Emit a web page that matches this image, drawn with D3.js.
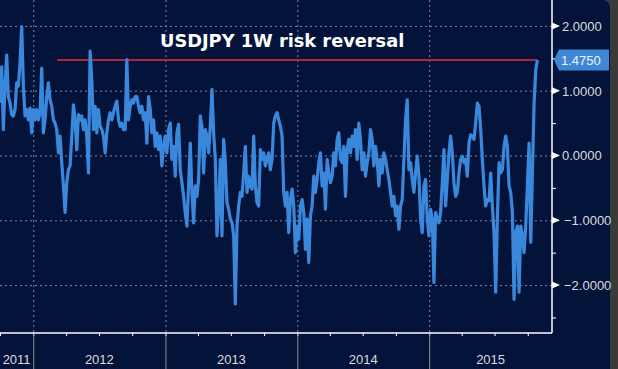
<!DOCTYPE html>
<html>
<head>
<meta charset="utf-8">
<script src="https://cdn.jsdelivr.net/npm/d3@7"></script>
<style>
  html, body { margin: 0; padding: 0; background: #3a3a3a; }
  svg { display: block; }
</style>
</head>
<body>
<svg id="chart" width="618" height="369"></svg>
<script>
// USDJPY 1W risk reversal (approx. every 4-5 days)
const title = "USDJPY 1W risk reversal";
const startDate = new Date(2011, 9, 1);
const stepDays = 4.62;
const rr = [
  0.81, 1.37, 0.40, 1.07, 1.55, 0.91, 0.81, 0.63, 0.61, 0.71,
  1.12, 1.07, 1.43, 1.99, 1.07, 0.61, 0.71, 0.55, 0.73, 0.35,
  0.71, 0.55, 0.71, 0.55, 0.66, 1.35, 0.35, 0.55, 0.91, 1.12,
  0.86, 0.76, 0.55, 0.50, 0.40, 0.04, 0.30, -0.11, -0.47, -0.88,
  -0.42, -0.22, -0.16, 0.30, 0.78, 0.55, 0.09, 0.63, 0.55, 0.61,
  0.40, 0.55, 0.30, -0.27, 1.61, 1.17, 0.40, 0.76, 0.35, 0.71,
  0.45, 0.40, 0.30, 0.04, 0.35, 0.55, 0.66, 0.55, 0.66, 0.76,
  0.84, 0.55, 0.45, 0.50, 0.40, 0.40, 1.48, 0.55, 0.76, 0.86,
  0.81, 0.91, 0.91, 0.76,
  // 2012 h2 - 2013
  0.66, 0.76, 0.55, 0.66, 0.19, 0.91, 0.71, 0.35, 0.55, 0.14,
  0.35, 0.09, 0.30, -0.16, 0.14, 0.30, 0.04, 0.40, 0.50, -0.06,
  0.14, -0.32, 0.35, 0.48, -0.22, -0.42, -0.63, -0.88, -1.09, -0.47,
  0.19, -0.57, -1.04, -0.47, -0.63, -0.37, 0.61, 0.45, -0.27, 0.40,
  0.30, 0.04, 0.45, 1.02, 0.35, -0.06, -1.24, -0.78, -0.06, -1.24,
  0.25, -0.11, -0.73, -0.83, -0.98, -1.04, -1.24, -2.29, -1.09, -0.78,
  -0.57, -0.63, -0.27, 0.14, -0.57, -0.32, -0.47, -0.52, 0.30, -0.47,
  -0.73, -0.78, 0.09, -0.06, 0.04, -0.16, -0.06, 0.04, -0.22, -0.06,
  // 2013 h2 - 2014
  0.50, 0.61, 0.66, 0.55, 0.45, 0.30, -0.57, -0.78, -0.57, -1.19,
  -0.68, -0.52, -0.78, -1.50, -1.09, -1.29, -0.78, -0.68, -0.88, -1.45,
  -0.98, -1.65, -0.93, -0.78, -0.32, -0.57, -0.37, -0.11, 0.04, -0.47,
  -0.27, -0.83, -0.06, -0.27, -0.42, -0.32, 0.04, -0.16, 0.25, 0.35,
  -0.06, -0.11, 0.14, -0.63, 0.09, 0.25, 0.04, 0.30, 0.14, 0.40,
  -0.06, 0.50, 0.25, -0.22, 0.04, -0.32, -0.11, 0.04, 0.40, 0.25,
  -0.16, 0.14, -0.06, -0.47, -0.06, -0.27, 0.04, -0.06, -0.22, -0.37,
  -0.57, -0.78, -0.63, -0.93, -0.78, -1.14, -0.78, -0.68, -0.06, 0.55,
  0.86,
  // 2014 end - 2015
  -0.22, -0.11, -0.37, -0.57, -0.27, -0.01, -0.32, -0.98, -1.19, -0.47,
  -0.37, -0.98, -1.24, -0.83, -0.98, -1.96, -0.88, -0.98, -1.04, -0.88,
  -0.42, 0.09, -0.78, -0.37, 0.04, 0.30, 0.04, -0.42, -0.63, -0.57,
  -0.27, -0.06, -0.01, -0.11, -0.06, -0.32, 0.19, 0.32, 0.30, 0.25,
  0.50, 0.81, 0.76, 0.40, -0.06, -0.47, -0.78, -0.68, -0.70, -0.27,
  -0.78, -1.19, -2.11, -0.98, -0.11, -0.27, -0.22, 0.14, 0.30, 0.14,
  -0.47, -0.57, -0.88, -2.22, -1.19, -1.09, -2.11, -1.09, -1.24, -1.50,
  -1.09, -0.47, 0.19, -1.34, -0.27, 0.81, 1.32, 1.475
];
const refStart = new Date(2012, 2, 7);   // start of the red level line
const yMajor = [2, 1, 0, -1, -2];
const yMinor = [1.5, 0.5, -0.5, -1.5, -2.5];

const W = 618, H = 369;
const plotW = 552, plotH = 333;
const navy = "#03133a";

const data = rr.map((v, i) => ({
  date: new Date(startDate.getTime() + i * stepDays * 86400000),
  value: v
}));
const last = data[data.length - 1];

const svg = d3.select("#chart");

// panel
svg.append("rect").attr("width", W).attr("height", H).attr("fill", "#3a3a3a");
svg.append("rect").attr("x", -10).attr("y", 0).attr("width", 620).attr("height", H + 20)
  .attr("rx", 7).attr("fill", navy);

const x = d3.scaleTime()
  .domain([new Date(2011, 9, 1), new Date(2015, 11, 7)])
  .range([0, plotW]);
const y = d3.scaleLinear()
  .domain([-2.74, 2.40])
  .range([plotH, 0]);

// grid
const grid = svg.append("g").attr("class", "grid");
grid.append("g")
  .call(d3.axisRight(y).tickValues(yMajor).tickSize(plotW).tickFormat(""))
  .call(g => g.select(".domain").remove());
grid.append("g")
  .call(d3.axisBottom(x).ticks(d3.timeYear.every(1)).tickSize(plotH).tickFormat(""))
  .call(g => g.select(".domain").remove());
grid.selectAll("line")
  .attr("stroke", "#7a88a8")
  .attr("stroke-width", 1)
  .attr("stroke-dasharray", "2,3");

// clip
svg.append("clipPath").attr("id", "plot-clip")
  .append("rect").attr("width", plotW).attr("height", plotH);

// red level line
svg.append("line")
  .attr("x1", x(refStart)).attr("x2", x(last.date))
  .attr("y1", y(last.value)).attr("y2", y(last.value))
  .attr("stroke", "#b3223f")
  .attr("stroke-width", 2);

// series
const line = d3.line()
  .x(d => x(d.date))
  .y(d => y(d.value));

svg.append("path")
  .datum(data)
  .attr("clip-path", "url(#plot-clip)")
  .attr("d", line)
  .attr("fill", "none")
  .attr("stroke", "#3a88dc")
  .attr("stroke-width", 3.2)
  .attr("stroke-linejoin", "round");

// title
svg.append("text")
  .attr("x", 160).attr("y", 47)
  .attr("font-family", "DejaVu Sans, Verdana, sans-serif")
  .attr("font-weight", "bold")
  .attr("font-size", "17.8px")
  .attr("fill", "#ffffff")
  .text(title);

// x axis: quarter ticks
const xAxis = svg.append("g").attr("transform", `translate(0,${plotH})`);
xAxis.append("g")
  .call(d3.axisBottom(x).ticks(d3.timeMonth.every(3)).tickSize(3).tickFormat("").tickSizeOuter(0))
  .call(g => g.select(".domain").remove())
  .selectAll("line").attr("stroke", "#ffffff");
xAxis.append("g")
  .call(d3.axisBottom(x).ticks(d3.timeYear.every(1)).tickSize(H - plotH).tickFormat(""))
  .call(g => g.select(".domain").remove())
  .selectAll("line").attr("stroke", "#8a8f99");
xAxis.append("line")
  .attr("x1", 0).attr("x2", plotW)
  .attr("stroke", "#ffffff").attr("stroke-width", 1.5);

// year labels centred in each visible year span
const years = d3.timeYear.range(d3.timeYear.floor(x.domain()[0]), x.domain()[1]);
xAxis.selectAll(".yl")
  .data(years)
  .enter().append("text")
  .attr("x", d => {
    const a = Math.max(0, x(d)), b = Math.min(plotW, x(d3.timeYear.offset(d, 1)));
    return (a + b) / 2;
  })
  .attr("y", 31)
  .attr("text-anchor", "middle")
  .attr("font-family", "Liberation Sans, Arial, sans-serif")
  .attr("font-size", "13px")
  .attr("fill", "#dcdcdc")
  .text(d3.timeFormat("%Y"));

// y axis on the right
const yAxis = svg.append("g").attr("transform", `translate(${plotW},0)`);
yAxis.append("line")
  .attr("y1", 0).attr("y2", plotH)
  .attr("stroke", "#ffffff").attr("stroke-width", 1.5);
yAxis.append("g")
  .call(d3.axisRight(y).tickValues(yMinor).tickSize(4).tickFormat(""))
  .call(g => g.select(".domain").remove())
  .selectAll("line").attr("stroke", "#ffffff");
const maj = yAxis.selectAll(".maj")
  .data(yMajor)
  .enter().append("g")
  .attr("transform", d => `translate(0,${y(d)})`);
maj.append("path")
  .attr("d", "M0,-3.5L8,0L0,3.5Z")
  .attr("fill", "#ffffff");
maj.append("text")
  .attr("x", d => d < 0 ? 12 : 10)
  .attr("y", 5)
  .attr("font-family", "Liberation Sans, Arial, sans-serif")
  .attr("font-size", "13px")
  .attr("fill", "#dcdcdc")
  .text(d3.format(".4f"));

// last value tag
const tag = yAxis.append("g").attr("transform", `translate(0,${y(last.value)})`);
tag.append("path")
  .attr("d", "M2,0L7,-10.5L57,-10.5L57,10.5L7,10.5Z")
  .attr("fill", "#3d87d4");
tag.append("text")
  .attr("x", 9).attr("y", 5)
  .attr("font-family", "Liberation Sans, Arial, sans-serif")
  .attr("font-size", "13px")
  .attr("fill", "#eef3fa")
  .text(d3.format(".4f")(last.value));
</script>
</body>
</html>
